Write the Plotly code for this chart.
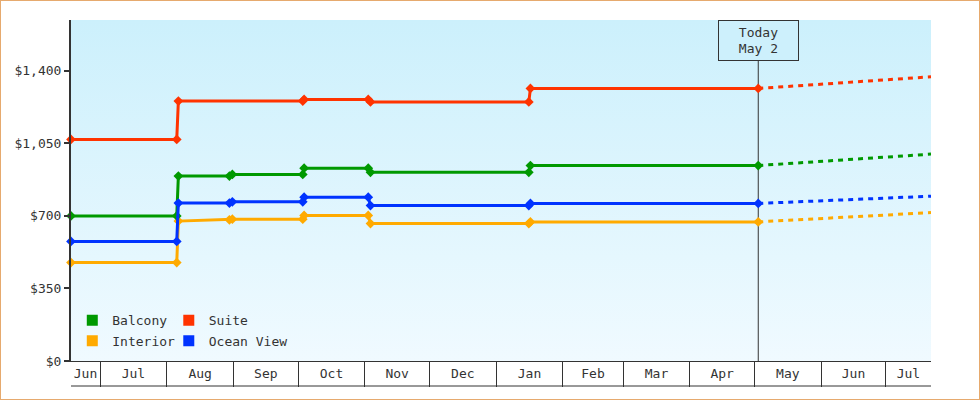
import base64

import pandas as pd
import plotly.graph_objects as go

# visible window and the "today" marker
x_start = "2024-06-17 12:00"
x_end = "2025-07-22 00:00"
today = "2025-05-02 18:00"

suite_dates = [x_start, "2024-08-05 15:00", "2024-08-06 09:00", "2024-10-03 04:00",
               "2024-10-03 19:00", "2024-11-02 14:00", "2024-11-03 15:00",
               "2025-01-16 04:00", "2025-01-16 22:00", today]
suite_prices = [1069, 1069, 1254, 1254, 1262, 1262, 1250, 1250, 1315, 1315]

balcony_dates = [x_start, "2024-08-05 15:00", "2024-08-06 09:00", "2024-08-30 02:00",
                 "2024-08-31 11:00", "2024-10-03 04:00", "2024-10-03 19:00",
                 "2024-11-02 14:00", "2024-11-03 15:00", "2025-01-16 04:00",
                 "2025-01-16 22:00", today]
balcony_prices = [700, 700, 892, 892, 900, 900, 930, 930, 910, 910, 943, 943]

ocean_dates = balcony_dates
ocean_prices = [577, 577, 762, 762, 768, 768, 790, 790, 750, 750, 760, 760]

interior_dates = balcony_dates
interior_prices = [475, 475, 675, 681, 684, 684, 702, 702, 663, 663, 671, 671]

forecast_dates = [today, x_end]
suite_forecast = [1315, 1371]
balcony_forecast = [943, 998]
ocean_forecast = [760, 795]
interior_forecast = [671, 716]

price_ticks = [0, 350, 700, 1050, 1400]
price_labels = [f"${v:,}" for v in price_ticks]

colors = {
    "Balcony": "#009900",
    "Suite": "#ff3300",
    "Interior": "#ffaa00",
    "Ocean View": "#0033ff",
}

series = [
    ("Interior", interior_dates, interior_prices, interior_forecast),
    ("Balcony", balcony_dates, balcony_prices, balcony_forecast),
    ("Ocean View", ocean_dates, ocean_prices, ocean_forecast),
    ("Suite", suite_dates, suite_prices, suite_forecast),
]

FONT = dict(family="DejaVu Sans Mono", size=13, color="#333333")
INK = "#333333"

fig = go.Figure()
for name, dates, prices, forecast in series:
    fig.add_trace(go.Scatter(
        x=forecast_dates, y=forecast, mode="lines", showlegend=False,
        line=dict(color=colors[name], width=3, dash="5px,5px"), hoverinfo="skip",
    ))
    fig.add_trace(go.Scatter(
        x=dates, y=prices, mode="lines+markers", name=name, showlegend=False,
        line=dict(color=colors[name], width=3),
        marker=dict(symbol="diamond", size=7.5, color=colors[name]),
        cliponaxis=False,
    ))

# legend: one small legend per cell so the 2x2 grid lines up
legend_cells = [
    ("Balcony", "legend", 0.0015, 0.119),
    ("Suite", "legend2", 0.1137, 0.119),
    ("Interior", "legend3", 0.0015, 0.059),
    ("Ocean View", "legend4", 0.1137, 0.059),
]
legend_layout = {}
for name, leg, lx, ly in legend_cells:
    fig.add_trace(go.Scatter(
        x=[None], y=[None], mode="markers", name=name, legend=leg,
        marker=dict(symbol="square", size=11, color=colors[name]),
    ))
    legend_layout[leg] = dict(
        orientation="h", xanchor="left", yanchor="middle", x=lx, y=ly,
        itemwidth=30, bgcolor="rgba(0,0,0,0)", font=FONT,
    )

# month labels centred on the visible part of each month
lo, hi = pd.Timestamp(x_start), pd.Timestamp(x_end)
edges = [lo] + list(pd.date_range(lo.normalize() + pd.offsets.MonthBegin(1), hi, freq="MS")) + [hi]
mids = [a + (b - a) / 2 for a, b in zip(edges[:-1], edges[1:])]
month_labels = [a.strftime("%b") for a in edges[:-1]]

gradient_svg = (
    '<svg xmlns="http://www.w3.org/2000/svg" width="100" height="100" '
    'viewBox="0 0 100 100" preserveAspectRatio="none">'
    '<defs><linearGradient id="g" x1="0" y1="0" x2="0" y2="1">'
    '<stop offset="0" stop-color="#ccf0fc"/><stop offset="1" stop-color="#f0faff"/>'
    '</linearGradient></defs><rect width="100" height="100" fill="url(#g)"/></svg>'
)
gradient_uri = "data:image/svg+xml;base64," + base64.b64encode(gradient_svg.encode()).decode()

W, H = 980, 400
L, R, T, B = 71, 49, 20, 39
pw, ph = W - L - R, H - T - B

fig.update_layout(
    width=W, height=H,
    margin=dict(l=L, r=R, t=T, b=B),
    paper_bgcolor="white",
    plot_bgcolor="rgba(0,0,0,0)",
    font=FONT,
    showlegend=True,
    images=[dict(
        source=gradient_uri, xref="paper", yref="paper", x=0, y=1,
        sizex=1, sizey=1, sizing="stretch", xanchor="left", yanchor="top",
        layer="below",
    )],
    xaxis=dict(
        type="date", range=[x_start, x_end],
        tickvals=mids, ticktext=month_labels, ticks="",
        showgrid=False, zeroline=False,
        showline=True, linecolor=INK, linewidth=1,
        minor=dict(ticks="outside", ticklen=25, tickcolor=INK, tickwidth=1,
                   dtick="M1", tick0="2024-06-01", showgrid=False),
        tickfont=FONT,
    ),
    yaxis=dict(
        range=[0, 1645], tickvals=price_ticks, ticktext=price_labels,
        ticks="outside", ticklen=5, tickwidth=2, tickcolor=INK,
        showline=True, linecolor=INK, linewidth=2,
        showgrid=False, zeroline=False, tickfont=FONT,
    ),
    shapes=[
        dict(type="line", xref="x", yref="paper", x0=today, x1=today, y0=0, y1=1,
             line=dict(color=INK, width=1), layer="below"),
        dict(type="line", xref="paper", yref="paper", x0=0, x1=1,
             y0=-25 / ph, y1=-25 / ph, line=dict(color=INK, width=1)),
        dict(type="rect", xref="paper", yref="paper",
             x0=-L / pw, x1=1 + R / pw, y0=-B / ph, y1=1 + T / ph,
             line=dict(color="#e6aa6e", width=2)),
    ],
    annotations=[dict(
        x=today, xref="x", y=1, yref="paper", xanchor="center", yanchor="top",
        text="Today<br>May 2", showarrow=False, font=FONT,
        bordercolor=INK, borderwidth=1, borderpad=0, width=79, height=39,
        bgcolor="#cdf0fc",
    )],
    **legend_layout,
)

fig.write_html(
    "out.html",
    config={"displayModeBar": False},
    post_script="document.body.style.margin='0';",
)
